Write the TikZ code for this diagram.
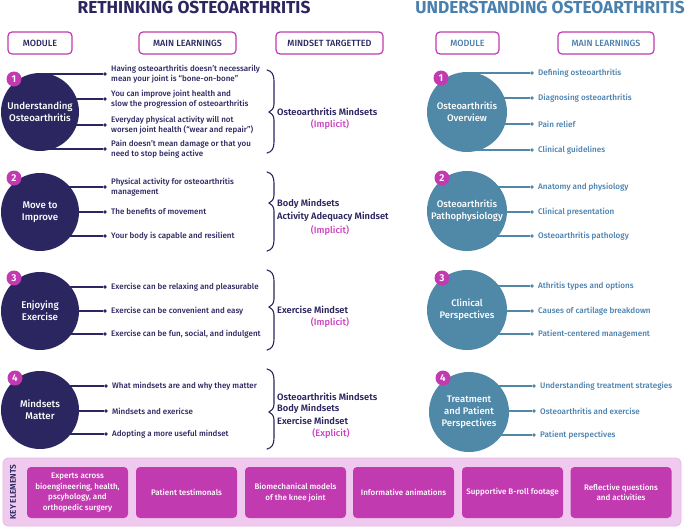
\documentclass[tikz,border=0pt]{standalone}
\usepackage{fontspec}
\setmainfont{Fira Sans}
\newfontfamily\fmed{Fira Sans Medium}
\newfontfamily\fsemi{Fira Sans SemiBold}
\usetikzlibrary{backgrounds}
\definecolor{navy}{HTML}{2B2660}
\definecolor{steel}{HTML}{5088A8}
\definecolor{steeltxt}{HTML}{4A80AE}
\definecolor{mag}{HTML}{C13AB0}
\definecolor{impl}{HTML}{CC3FC0}
\definecolor{bandpink}{HTML}{EFCAEE}
\definecolor{bandline}{HTML}{E7B8E5}
\tikzset{
  lmod/.style={circle, fill=navy, minimum size=78pt, inner sep=0pt, text=white, align=center, font=\fmed\fontsize{9.7}{12}\selectfont},
  rmod/.style={circle, fill=steel, minimum size=80pt, inner sep=0pt, text=white, align=center, font=\fmed\fontsize{9.5}{12}\selectfont},
  badge/.style={circle, fill=mag, minimum size=15pt, inner sep=0pt, text=white, font=\fsemi\fontsize{10}{10}\selectfont},
  ldot/.style={circle, fill=navy, minimum size=3.6pt, inner sep=0pt},
  rdot/.style={circle, fill=steel, minimum size=3.6pt, inner sep=0pt},
  ltxt/.style={anchor=west, align=left, text=navy, inner sep=0pt, font=\fmed\fontsize{8}{10.4}\selectfont},
  rtxt/.style={anchor=west, align=left, text=steeltxt, inner sep=0pt, font=\fmed\fontsize{8.1}{10.4}\selectfont},
  lcon/.style={draw=navy, line width=1.3pt},
  rcon/.style={draw=steel, line width=1.3pt},
  brace/.style={draw=navy, line width=1.1pt, line cap=round},
  mind/.style={anchor=west, inner sep=0pt, text=navy, font=\fsemi\fontsize{9.3}{10}\selectfont},
  implicit/.style={inner sep=0pt, text=impl, font=\fmed\fontsize{9.3}{10}\selectfont},
  hbox/.style={draw=mag, line width=1.2pt, rounded corners=4pt, fill=white, minimum height=22pt, inner sep=0pt, font=\fmed\fontsize{9}{10}\selectfont},
  keybox/.style={fill=mag, rounded corners=4pt, minimum height=51pt, minimum width=101pt, inner sep=0pt, text=white, align=center, font=\fmed\fontsize{8}{10.4}\selectfont},
  title/.style={inner sep=0pt, font=\bfseries\fontsize{17.3}{18}\selectfont}
}
\begin{document}
\begin{tikzpicture}[x=1pt,y=-1pt]
\useasboundingbox (0,0) rectangle (685,528);
\begin{scope}[on background layer]
\fill[white] (0,0) rectangle (685,528);
\end{scope}
% titles
\node[title, text=navy] (t1) at (194,8) {RETHINKING OSTEOARTHRITIS};
\node[title, text=steeltxt] (t2) at (550,8) {UNDERSTANDING OSTEOARTHRITIS};
% headers
\node[hbox, minimum width=64pt, text=navy] (h1) at (40,43) {MODULE};
\node[hbox, minimum width=97pt, text=navy] (h2) at (187.5,43) {MAIN LEARNINGS};
\node[hbox, minimum width=107pt, text=navy] (h3) at (329.5,43) {MINDSET TARGETTED};
\node[hbox, minimum width=63pt, text=steeltxt] (h4) at (467.5,43) {MODULE};
\node[hbox, minimum width=96pt, text=steeltxt] (h5) at (606,43) {MAIN LEARNINGS};

% ---------- LEFT MODULES ----------
\node[lmod] (L1) at (40,112) {Understanding\\Osteoarthritis};
\node[lmod] (L2) at (40,212) {Move to\\Improve};
\node[lmod] (L3) at (40,311) {Enjoying\\Exercise};
\node[lmod] (L4) at (40,410) {Mindsets\\Matter};
\node[badge] (B1) at (14,79) {1};
\node[badge] (B2) at (14,178) {2};
\node[badge] (B3) at (14,278) {3};
\node[badge] (B4) at (15,378) {4};

% dots
\node[ldot] (d11) at (105,74) {};
\node[ldot] (d12) at (105,99) {};
\node[ldot] (d13) at (105,125) {};
\node[ldot] (d14) at (105,149) {};
\node[ldot] (d21) at (105,187) {};
\node[ldot] (d22) at (105,212) {};
\node[ldot] (d23) at (105,236) {};
\node[ldot] (d31) at (105,287) {};
\node[ldot] (d32) at (105,311) {};
\node[ldot] (d33) at (105,334) {};
\node[ldot] (d41) at (106,386) {};
\node[ldot] (d42) at (106,411) {};
\node[ldot] (d43) at (106,434) {};
\begin{scope}[on background layer]
\foreach \c/\d in {L1/d11,L1/d12,L1/d13,L1/d14,L2/d21,L2/d22,L2/d23,L3/d31,L3/d32,L3/d33,L4/d41,L4/d42,L4/d43}
  \draw[lcon] (\c.center |- \d) -- (\d);
\end{scope}

% learning texts
\node[ltxt] (x11) at (111,74) {Having osteoarthritis doesn’t necessarily\\mean your joint is “bone-on-bone”};
\node[ltxt] (x12) at (111,99) {You can improve joint health and\\slow the progression of osteoarthritis};
\node[ltxt] (x13) at (111,125) {Everyday physical activity will not\\worsen joint health (“wear and repair”)};
\node[ltxt] (x14) at (111,149) {Pain doesn’t mean damage or that you\\need to stop being active};
\node[ltxt] (x21) at (111,187) {Physical activity for osteoarthritis\\management};
\node[ltxt] (x22) at (111,212) {The benefits of movement};
\node[ltxt] (x23) at (111,236) {Your body is capable and resilient};
\node[ltxt] (x31) at (111,287) {Exercise can be relaxing and pleasurable};
\node[ltxt] (x32) at (111,311) {Exercise can be convenient and easy};
\node[ltxt] (x33) at (111,334) {Exercise can be fun, social, and indulgent};
\node[ltxt] (x41) at (112,386) {What mindsets are and why they matter};
\node[ltxt] (x42) at (112,411) {Mindsets and exericse};
\node[ltxt] (x43) at (112,434) {Adopting a more useful mindset};

% braces
\foreach \t/\m/\b in {70/112/153, 172/203/251, 270/307/350, 369/412/449}{
  \draw[brace] (267,\t) .. controls (272,\t+1) and (274,\t+5) .. (274,\t+11)
     -- (274,\m-8) .. controls (274,\m-3) and (271,\m-1) .. (269,\m)
     .. controls (271,\m+1) and (274,\m+3) .. (274,\m+8)
     -- (274,\b-11) .. controls (274,\b-5) and (272,\b-1) .. (267,\b);
}

% mindsets
\node[mind] (m11) at (277,112) {Osteoarthritis Mindsets};
\node[implicit] (m12) at (330,125) {(Implicit)};
\node[mind] (m21) at (277,204) {Body Mindsets};
\node[mind] (m22) at (277,217) {Activity Adequacy Mindset};
\node[implicit] (m23) at (330,231) {(Implicit)};
\node[mind] (m31) at (277,310) {Exercise Mindset};
\node[implicit] (m32) at (330,323) {(Implicit)};
\node[mind] (m41) at (277,397) {Osteoarthritis Mindsets};
\node[mind] (m42) at (277,409) {Body Mindsets};
\node[mind] (m43) at (277,421) {Exercise Mindset};
\node[implicit] (m44) at (331,434) {(Explicit)};

% ---------- RIGHT MODULES ----------
\node[rmod] (R1) at (467,112) {Osteoarthritis\\Overview};
\node[rmod] (R2) at (467,211) {Osteoarthritis\\Pathophysiology};
\node[rmod] (R3) at (467,310) {Clinical\\Perspectives};
\node[rmod] (R4) at (469,412) {Treatment\\and Patient\\Perspectives};
\node[badge] (C1) at (441,78) {1};
\node[badge] (C2) at (442,178) {2};
\node[badge] (C3) at (442,278) {3};
\node[badge] (C4) at (443,378) {4};

\node[rdot] (e11) at (532,73) {};
\node[rdot] (e12) at (532,98) {};
\node[rdot] (e13) at (532,124) {};
\node[rdot] (e14) at (532,150) {};
\node[rdot] (e21) at (532,187) {};
\node[rdot] (e22) at (532,212) {};
\node[rdot] (e23) at (532,236) {};
\node[rdot] (e31) at (532,286) {};
\node[rdot] (e32) at (532,311) {};
\node[rdot] (e33) at (532,334) {};
\node[rdot] (e41) at (534,386) {};
\node[rdot] (e42) at (534,411) {};
\node[rdot] (e43) at (534,435) {};
\begin{scope}[on background layer]
\foreach \c/\d in {R1/e11,R1/e12,R1/e13,R1/e14,R2/e21,R2/e22,R2/e23,R3/e31,R3/e32,R3/e33,R4/e41,R4/e42,R4/e43}
  \draw[rcon] (\c.center |- \d) -- (\d);
\end{scope}

\node[rtxt] (y11) at (538,73) {Defining osteoarthritis};
\node[rtxt] (y12) at (538,98) {Diagnosing osteoarthritis};
\node[rtxt] (y13) at (538,124) {Pain relief};
\node[rtxt] (y14) at (538,150) {Clinical guidelines};
\node[rtxt] (y21) at (538,187) {Anatomy and physiology};
\node[rtxt] (y22) at (538,212) {Clinical presentation};
\node[rtxt] (y23) at (538,236) {Osteoarthritis pathology};
\node[rtxt] (y31) at (538,286) {Athritis types and options};
\node[rtxt] (y32) at (538,311) {Causes of cartilage breakdown};
\node[rtxt] (y33) at (538,334) {Patient-centered management};
\node[rtxt] (y41) at (540,386) {Understanding treatment strategies};
\node[rtxt] (y42) at (540,411) {Osteoarthritis and exercise};
\node[rtxt] (y43) at (540,435) {Patient perspectives};

% ---------- KEY ELEMENTS ----------
\node[draw=bandline, fill=bandpink, line width=0.8pt, rounded corners=5pt, minimum width=678pt, minimum height=68pt, inner sep=0pt] (band) at (342,492) {};
\node[rotate=90, text=navy, inner sep=0pt, font=\fsemi\fontsize{8.3}{10}\selectfont] (ke) at (13,492) {KEY ELEMENTS};
\node[keybox] (k1) at (77.5,492.5) {Experts across\\bioengineering, health,\\pscyhology, and\\orthopedic surgery};
\node[keybox] (k2) at (186.5,492.5) {Patient testimonals};
\node[keybox] (k3) at (295.5,492.5) {Biomechanical models\\of the knee joint};
\node[keybox] (k4) at (403.5,492.5) {Informative animations};
\node[keybox] (k5) at (512.5,492.5) {Supportive B-roll footage};
\node[keybox] (k6) at (621,492.5) {Reflective questions\\and activities};
\end{tikzpicture}
\end{document}
